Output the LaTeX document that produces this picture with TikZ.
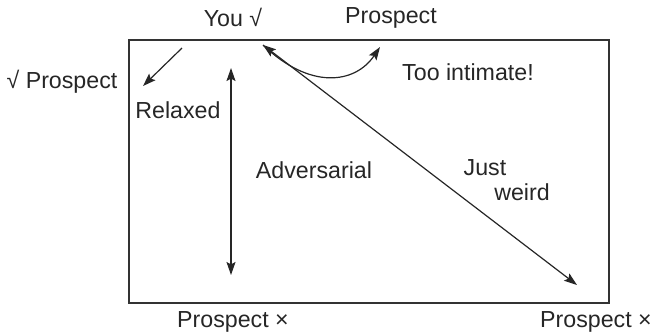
\documentclass[tikz,border=0pt]{standalone}
\usepackage{fontspec}
\setmainfont{Liberation Sans}
\usetikzlibrary{arrows.meta,positioning}
\tikzset{
  frameline/.style={black!80, line width=0.7pt},
  link/.style={black!85, line width=0.6pt, -{Stealth[length=6.5pt,width=4.5pt,inset=1.2pt]}},
  twolink/.style={link, {Stealth[length=6.5pt,width=4.5pt,inset=1.2pt]}-{Stealth[length=6.5pt,width=4.5pt,inset=1.2pt]}},
  labeltext/.style={font=\fontsize{11.6}{14}\selectfont, text=black!85, inner sep=1pt}
}

\begin{document}
\begin{tikzpicture}[x=0.5pt,y=-0.5pt]
  \useasboundingbox (0,0) rectangle (653,334);
  \draw[frameline] (129,40) rectangle (609,303);
  % labels round the frame
  \node[labeltext] (you) at (233,17) {You √};
  \node[labeltext] (topprospect) at (391,18) {Prospect};
  \node[labeltext] (leftprospect) at (62,82) {√ Prospect};
  \node[labeltext] (lowprospect) at (233,322) {Prospect ×};
  \node[labeltext] (cornerprospect) at (596,322) {Prospect ×};
  % labels inside
  \node[labeltext] (relaxed) at (178,110) {Relaxed};
  \node[labeltext] (adversarial) at (314,170) {Adversarial};
  \node[labeltext] (intimate) at (468,72) {Too intimate!};
  \node[labeltext] (just) at (485,168) {Just};
  \node[labeltext] (weird) at (522,192) {weird};
  % arrow ends
  \coordinate (youtip) at (263,45);
  \coordinate (faredge) at (577,285);
  \coordinate (relaxstart) at (182,48);
  \coordinate (relaxend) at (143,86);
  \coordinate (advtop) at (231,68);
  \coordinate (advbottom) at (231,275);
  \coordinate (closetip) at (380,47);
  \draw[link] (relaxstart) -- (relaxend);
  \draw[twolink] (advtop) -- (advbottom);
  \draw[twolink] (youtip) -- (faredge);
  \draw[link] (youtip) .. controls (310,90) and (355,84) .. (closetip);
\end{tikzpicture}
\end{document}
